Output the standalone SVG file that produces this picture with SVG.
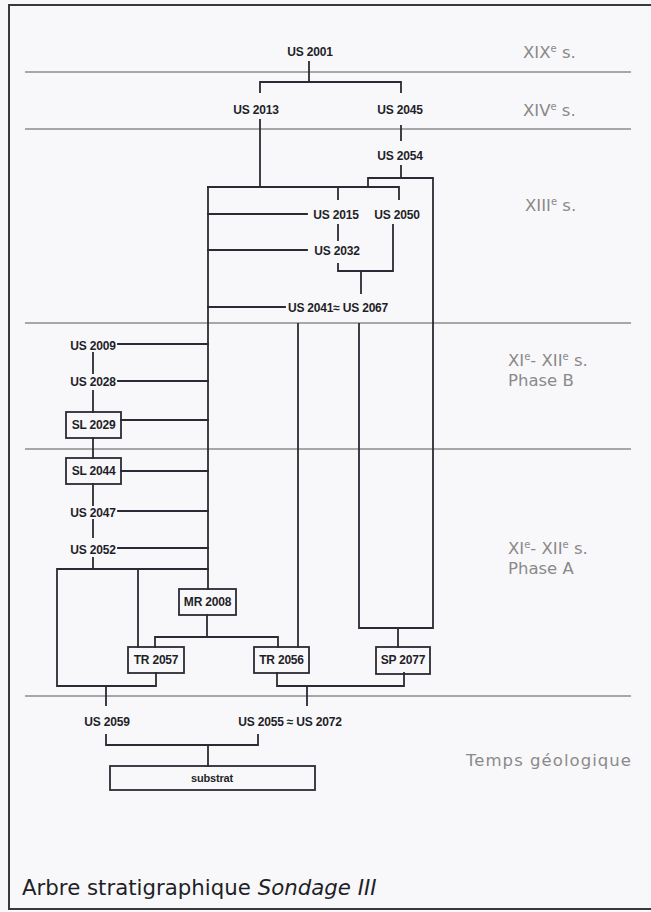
<svg xmlns="http://www.w3.org/2000/svg" width="651" height="912" viewBox="0 0 651 912">
<style>
.bg{fill:#f8f8fa}
.frame{fill:none;stroke:#3a3a3a;stroke-width:2}
.period{stroke:#8c8c8c;stroke-width:1.6;fill:none}
.con{fill:none;stroke:#2b2b35;stroke-width:1.8;stroke-linecap:square}
.box{fill:none;stroke:#2b2b35;stroke-width:1.8}
.lbl{font-family:"Liberation Sans",Arial,sans-serif;font-weight:bold;font-size:12px;fill:#1f1f28;text-anchor:middle;letter-spacing:-0.2px}
.per{font-family:"DejaVu Sans",sans-serif;font-size:16.5px;fill:#8a8a8a}
.sup{font-size:10px}
.title{font-family:"DejaVu Sans",sans-serif;font-size:21.3px;fill:#1f1f28}
</style>
<rect class="bg" x="0" y="0" width="651" height="912"/>
<rect class="frame" x="9" y="5" width="670" height="904"/>

<g id="periods">
<path class="period" d="M25 72H631M25 129H631M25 323H631M25 449H631M25 696H631"/>
<text class="per" x="523" y="58">XIX<tspan class="sup" dy="-6">e</tspan><tspan dy="6"> s.</tspan></text>
<text class="per" x="523" y="116">XIV<tspan class="sup" dy="-6">e</tspan><tspan dy="6"> s.</tspan></text>
<text class="per" x="525" y="211">XIII<tspan class="sup" dy="-6">e</tspan><tspan dy="6"> s.</tspan></text>
<text class="per" x="508" y="366">XI<tspan class="sup" dy="-6">e</tspan><tspan dy="6">- XII</tspan><tspan class="sup" dy="-6">e</tspan><tspan dy="6"> s.</tspan></text>
<text class="per" x="508" y="386">Phase B</text>
<text class="per" x="508" y="554">XI<tspan class="sup" dy="-6">e</tspan><tspan dy="6">- XII</tspan><tspan class="sup" dy="-6">e</tspan><tspan dy="6"> s.</tspan></text>
<text class="per" x="508" y="574">Phase A</text>
<text class="per" x="466" y="766" textLength="165" lengthAdjust="spacing">Temps géologique</text>
</g>

<g id="connectors">
<path class="con" d="M309 62V82M260 82H401M260 82V92M401 82V92"/>
<path class="con" d="M260 120V187"/>
<path class="con" d="M401 126V140"/>
<path class="con" d="M401 166V178M368 178H433M368 178V187M433 178V628H359V324M398 628V647"/>
<path class="con" d="M208 187H399M338 187V199M399 187V199"/>
<path class="con" d="M208 187V589"/>
<path class="con" d="M208 214H307M208 250H307M208 307H285"/>
<path class="con" d="M338 225V240"/>
<path class="con" d="M393 225V271H338V264M361 271V293"/>
<path class="con" d="M298 324V647"/>
<path class="con" d="M118 344H208M118 381H208M121 420H208M121 471H208M118 511H208M118 548H208"/>
<path class="con" d="M93 353V373M93 391V412M93 438V458M93 484V505M93 520V537M93 558V569"/>
<path class="con" d="M57 569H208M57 569V686H156V673M138 569V647"/>
<path class="con" d="M207 615V637M155 637H278M155 637V647M278 637V647"/>
<path class="con" d="M277 673V686H404V673"/>
<path class="con" d="M106 686V705M307 686V705"/>
<path class="con" d="M106 735V745H258V735M208 745V766"/>
</g>

<g id="US2001"><text class="lbl" x="310" y="56">US 2001</text></g>
<g id="US2013"><text class="lbl" x="256" y="114">US 2013</text></g>
<g id="US2045"><text class="lbl" x="400" y="114">US 2045</text></g>
<g id="US2054"><text class="lbl" x="400" y="160">US 2054</text></g>
<g id="US2015"><text class="lbl" x="336" y="219">US 2015</text></g>
<g id="US2050"><text class="lbl" x="397" y="219">US 2050</text></g>
<g id="US2032"><text class="lbl" x="337" y="255">US 2032</text></g>
<g id="US2041"><text class="lbl" x="338" y="312">US 2041≈ US 2067</text></g>
<g id="US2009"><text class="lbl" x="93" y="350">US 2009</text></g>
<g id="US2028"><text class="lbl" x="93" y="386">US 2028</text></g>
<g id="SL2029"><rect class="box" x="66" y="412" width="55" height="26"/><text class="lbl" x="93.5" y="429">SL 2029</text></g>
<g id="SL2044"><rect class="box" x="66" y="458" width="55" height="26"/><text class="lbl" x="93.5" y="475">SL 2044</text></g>
<g id="US2047"><text class="lbl" x="93" y="517">US 2047</text></g>
<g id="US2052"><text class="lbl" x="93" y="554">US 2052</text></g>
<g id="MR2008"><rect class="box" x="179" y="589" width="57" height="26"/><text class="lbl" x="207.5" y="606">MR 2008</text></g>
<g id="TR2057"><rect class="box" x="128" y="647" width="56" height="26"/><text class="lbl" x="156" y="664">TR 2057</text></g>
<g id="TR2056"><rect class="box" x="254" y="647" width="55" height="26"/><text class="lbl" x="281.5" y="664">TR 2056</text></g>
<g id="SP2077"><rect class="box" x="376" y="647" width="54" height="27"/><text class="lbl" x="403" y="664">SP 2077</text></g>
<g id="US2059"><text class="lbl" x="107" y="726">US 2059</text></g>
<g id="US2055"><text class="lbl" x="290" y="726">US 2055 ≈ US 2072</text></g>
<g id="substrat"><rect class="box" x="110" y="766" width="205" height="24"/><text class="lbl" x="212" y="782" style="font-size:11px">substrat</text></g>

<text class="title" x="22" y="895">Arbre stratigraphique <tspan font-style="italic">Sondage III</tspan></text>
</svg>
